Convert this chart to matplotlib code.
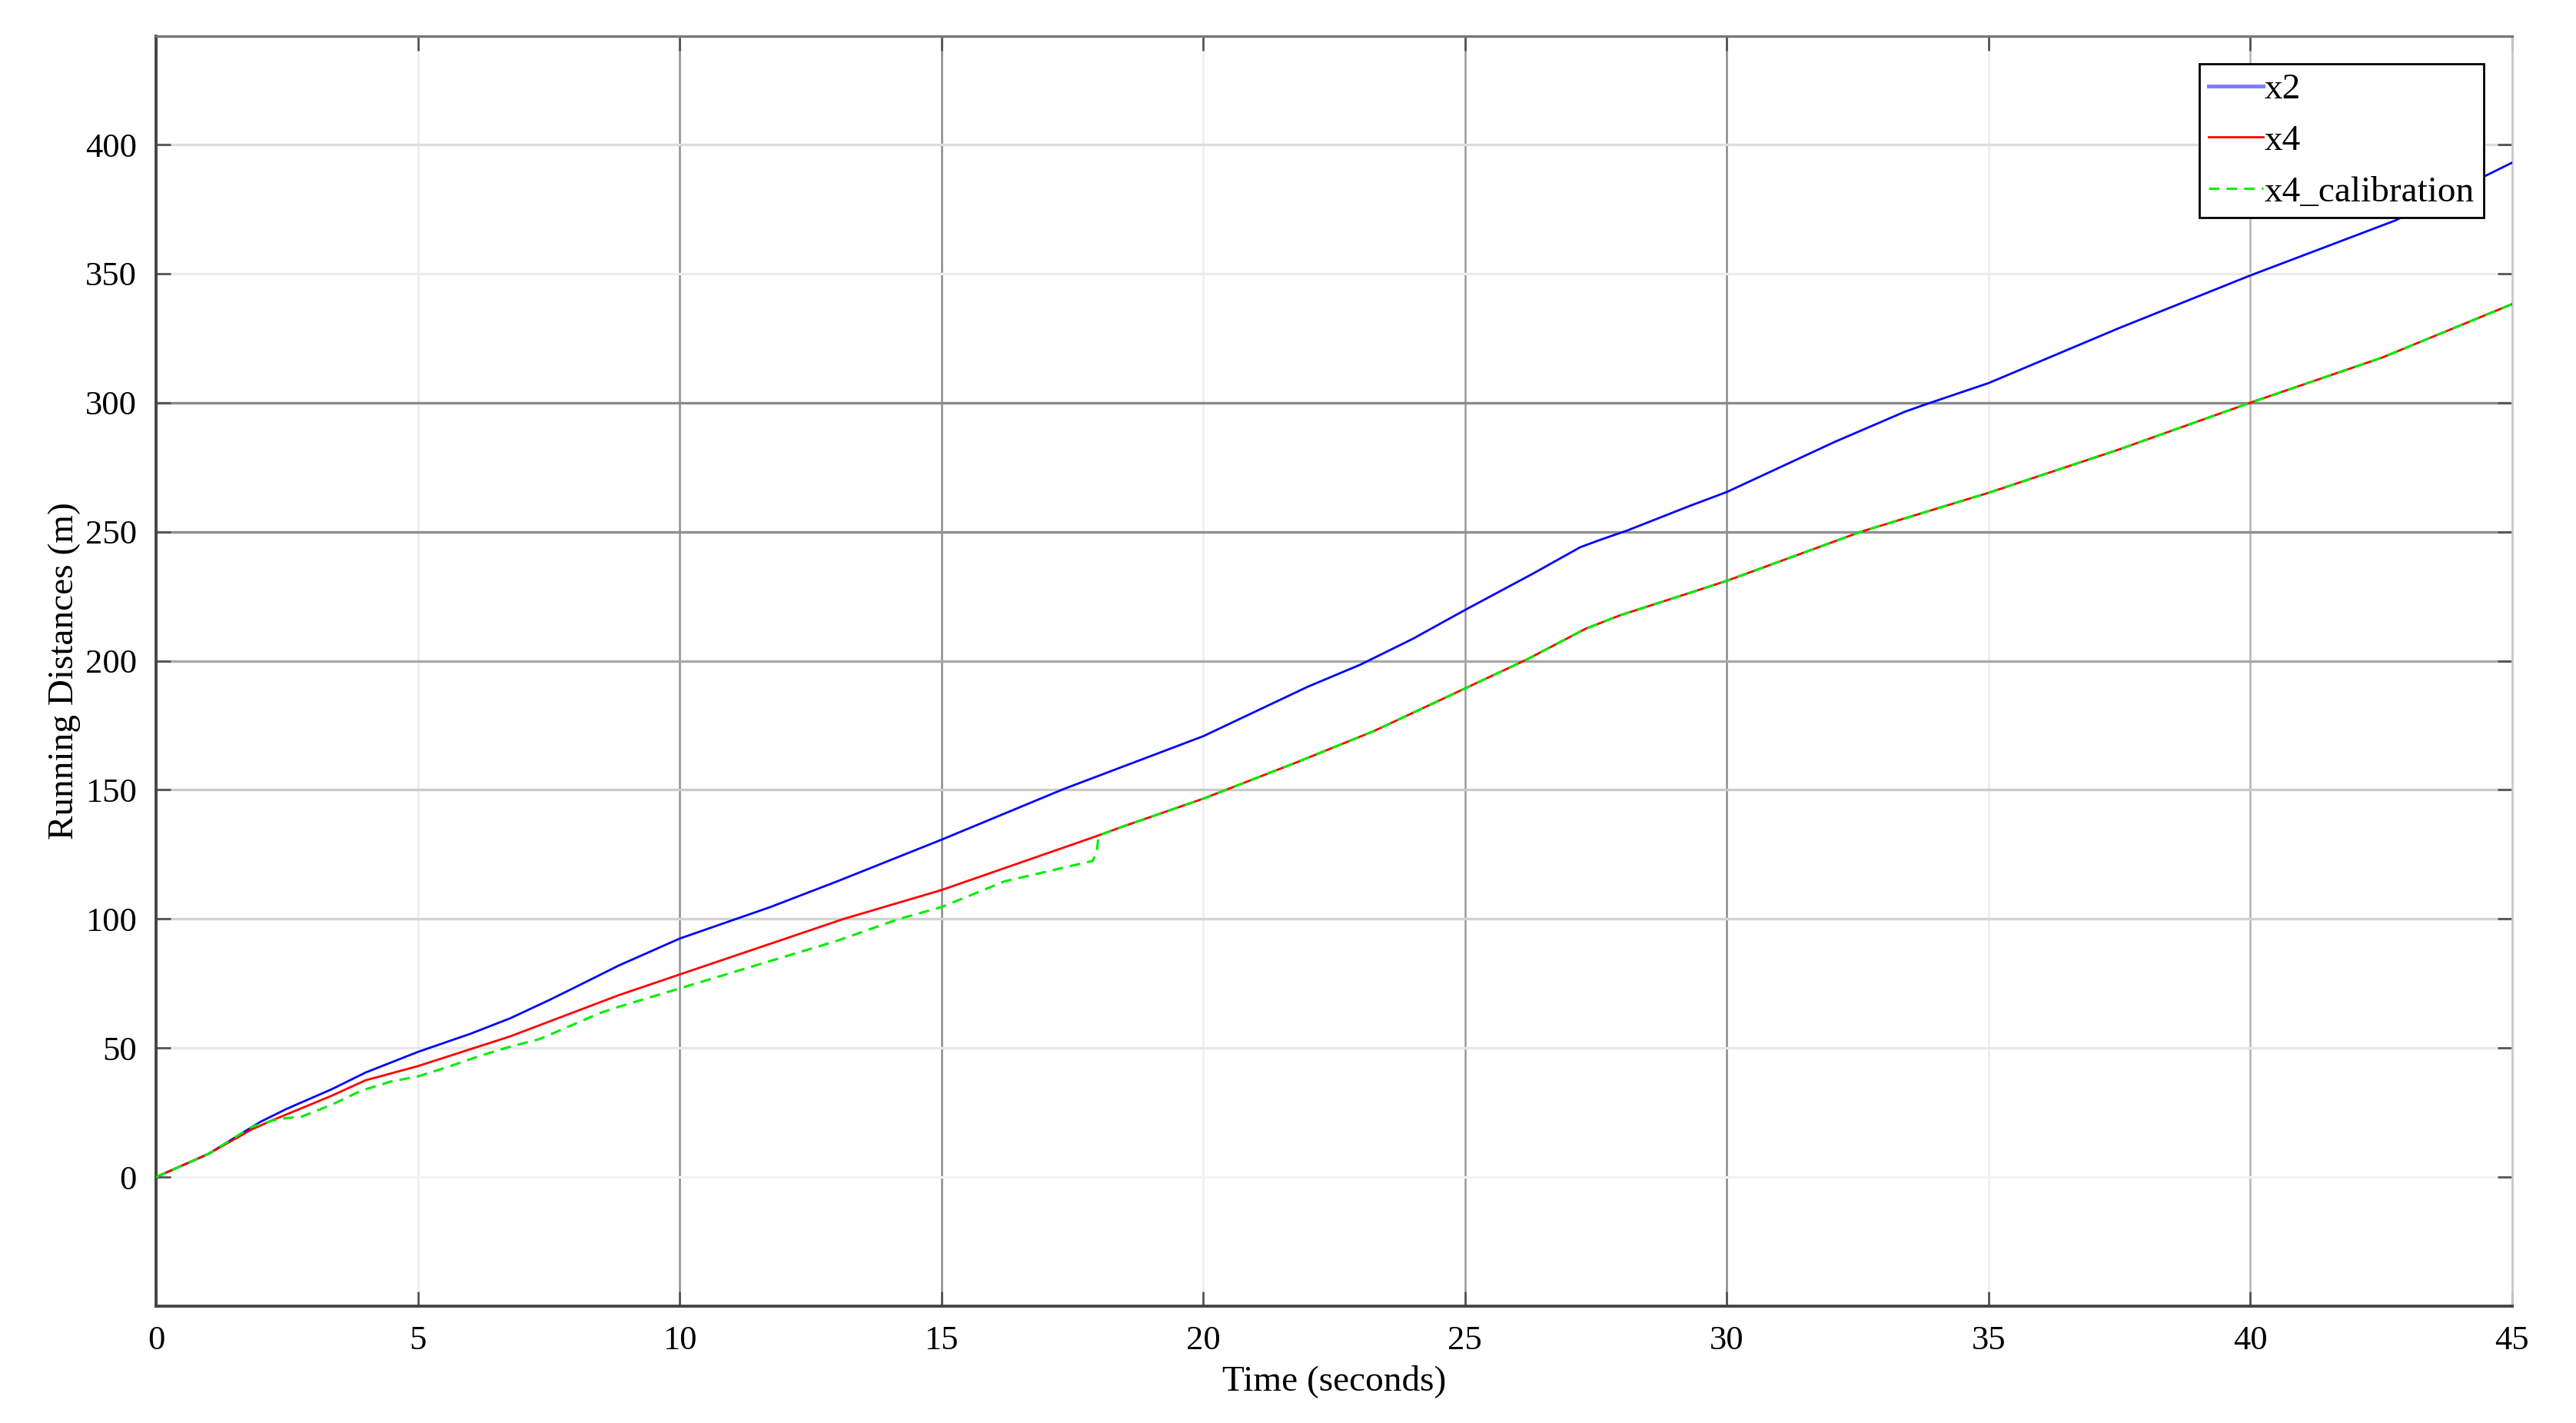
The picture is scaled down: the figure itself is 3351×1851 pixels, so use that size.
import matplotlib
matplotlib.use("Agg")
import matplotlib.pyplot as plt

# ---- data ----
t_x2 = [0, 1, 2, 2.5, 3.35, 4, 5, 6, 6.76, 7.5, 8, 8.84, 10, 11.73, 13, 15,
        17.33, 20, 22, 23, 24, 25, 26.29, 27.2, 27.6, 28.1, 29.29, 30, 32.06,
        33.4, 33.82, 35, 37.48, 40, 42.77, 45]
x2 = [0, 9, 21.5, 26.5, 34, 40.5, 48.5, 55.5, 61.5, 68.5, 73.5, 82, 92.4,
      104.6, 114.5, 130.7, 150.3, 170.8, 190, 198.5, 208.5, 219.7, 233.7, 244,
      247, 250.5, 260, 265.4, 284.8, 296.5, 299.5, 307.6, 328.8, 349.3, 370.6, 393]

t_x4 = [0, 1, 1.83, 2.22, 3.35, 4, 5, 6.76, 8.84, 10, 13.13, 15, 17.95,
        18.45, 20, 21.8, 23.26, 25, 26.18, 27.3, 27.97, 29.29, 30, 32.56,
        35, 37.48, 40, 42.52, 45]
x4 = [0, 9, 18.5, 22, 31.5, 37.5, 43, 54.5, 70.5, 78.5, 100, 111.2, 132,
      135.7, 146.6, 160.8, 172.8, 189.3, 200.5, 212.4, 217.7, 226.3, 231, 250,
      265.1, 281.8, 300, 317.5, 338.2]

t_x4c = [0, 1, 1.83, 2.33, 2.79, 3.35, 3.92, 4.48, 5, 5.62, 6.19, 6.76, 7.33,
         7.9, 8.47, 8.84, 10, 13, 14.19, 15, 16.21, 17.89, 17.97, 18.0,
         18.45, 20, 21.8, 23.26, 25, 26.18, 27.3, 27.97, 29.29, 30, 32.56,
         35, 37.48, 40, 42.52, 45]
x4c = [0, 9, 19.5, 22.5, 23.5, 28, 33.5, 37, 39, 43, 47, 50.5, 53.5, 58.5,
       63.5, 66, 73.1, 91.5, 100, 104.6, 114.6, 122.5, 126.5, 132.3,
       135.7, 146.6, 160.8, 172.8, 189.3, 200.5, 212.4, 217.7, 226.3, 231, 250,
       265.1, 281.8, 300, 317.5, 338.2]

labels = ["x2", "x4", "x4_calibration"]
x_ticks = [0, 5, 10, 15, 20, 25, 30, 35, 40, 45]
y_ticks = [0, 50, 100, 150, 200, 250, 300, 350, 400]

plt.rcParams['font.family'] = ['Liberation Serif', 'DejaVu Serif']

fig = plt.figure(figsize=(3351 / 200, 1851 / 200), dpi=200)
ax = fig.add_axes([0.0606, 0.0821, 0.9146, 0.8925])

# grid lines emulating the reference's varied shading
vgrid_col = {5: '#ececec', 10: '#8f8f8f', 15: '#8a8a8a', 20: '#eeeeee',
             25: '#9a9a9a', 30: '#8a8a8a', 35: '#ececec', 40: '#b4b4b4'}
hgrid_col = {0: '#f2f2f2', 50: '#e8e8e8', 100: '#d2d2d2', 150: '#cacaca',
             200: '#a8a8a8', 250: '#8f8f8f', 300: '#8a8a8a', 350: '#ececec',
             400: '#dcdcdc'}
for v, c in vgrid_col.items():
    ax.axvline(v, color=c, lw=0.9, zorder=0)
for v, c in hgrid_col.items():
    ax.axhline(v, color=c, lw=1.2, zorder=0)

ax.plot(t_x2, x2, color='#0000ff', lw=1.0, label=labels[0], zorder=3)
ax.plot(t_x4, x4, color='#ff0000', lw=1.0, label=labels[1], zorder=3)
ax.plot(t_x4c, x4c, color='#00ee00', lw=1.1, ls=(0, (4.5, 3)), label=labels[2], zorder=4)

ax.set_xlim(0, 45)
ax.set_ylim(-50, 442)
ax.set_xticks(x_ticks)
ax.set_yticks(y_ticks)
ax.tick_params(direction='in', length=7, width=1.0, color='#555555',
               top=True, right=True, labelsize=16, pad=9)

for side, c, w in [('left', '#444444', 1.4), ('bottom', '#444444', 1.4),
                   ('top', '#777777', 1.2), ('right', '#c8c8c8', 1.0)]:
    ax.spines[side].set_color(c)
    ax.spines[side].set_linewidth(w)

ax.set_xlabel("Time (seconds)", fontsize=17, labelpad=4)
ax.set_ylabel("Running Distances (m)", fontsize=17, labelpad=2)

leg = ax.legend(loc='upper right', bbox_to_anchor=(0.988, 0.978), fontsize=17,
                frameon=True, fancybox=False, edgecolor='black', framealpha=1,
                handlelength=1.5, handletextpad=0.05, borderpad=0.25,
                labelspacing=0.5, borderaxespad=0)
leg.get_frame().set_linewidth(1.0)
leg_lines = leg.get_lines()
leg_lines[0].set_color('#8080ff')
leg_lines[0].set_linewidth(1.8)

fig.savefig("out.png", dpi=200, facecolor='white')
